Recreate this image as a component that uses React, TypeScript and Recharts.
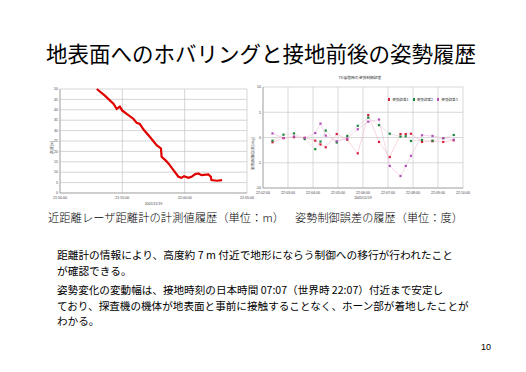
import { LineChart, Line, XAxis, YAxis, CartesianGrid, Legend } from 'recharts';

// left chart: laser range finder altitude (m)
const altTimes = [0.59, 0.72, 0.86, 0.91, 0.96, 1.0, 1.07, 1.18, 1.23, 1.28, 1.34, 1.44, 1.55, 1.62, 1.63, 1.69, 1.74, 1.82, 1.9, 1.95, 1.99, 2.06, 2.11, 2.17, 2.22, 2.27, 2.38, 2.42, 2.43, 2.52, 2.6];
const altValues = [50, 46.8, 42.8, 40.4, 41.5, 39.6, 38.0, 35.6, 33.7, 33.2, 30.5, 27.0, 23.0, 21.4, 17.4, 15.8, 14.2, 11.0, 7.8, 7.3, 8.1, 7.3, 7.8, 9.1, 9.4, 8.6, 8.9, 7.8, 6.2, 5.9, 6.2];
const altTicks = [0, 1, 2, 3];
const altTickLabels = ['21:50:00', '21:55:00', '22:00:00', '22:05:00'];
const altYTicks = [0, 5, 10, 15, 20, 25, 30, 35, 40, 45, 50];

// right chart: attitude control error (deg)
const attTimes = [0.38, 0.82, 1.24, 1.67, 2.09, 2.3, 2.51, 2.95, 3.37, 3.79, 4.21, 4.64, 5.07, 5.5, 5.71, 5.92, 6.36, 6.78, 7.21, 7.63];
const errX = [-0.94, -0.13, 0.06, -0.06, -0.63, -1.38, -1.94, 0.69, -0.44, -3.13, 4.44, -0.88, -3.88, 0.69, 0.69, 0.75, -0.88, -0.75, -0.88, -0.56];
const errY = [-0.63, 0.56, 0.81, -0.31, -2.31, -0.81, 1.38, -1.0, 0.31, 2.31, 3.94, 2.44, 0.75, 0.19, 0.25, -0.69, -0.5, -0.63, -0.13, 0.5];
const errZ = [0.81, -0.1, 0.2, -0.1, 0.88, 2.75, 0.38, -0.75, -0.2, 1.63, 3.13, 3.56, -5.63, -7.63, -5.63, -3.63, 0.44, 0.31, -0.13, -0.44];
const attTicks = [0, 1, 2, 3, 4, 5, 6, 7, 8];
const attTickLabels = ['22:02:00', '22:03:00', '22:04:00', '22:05:00', '22:06:00', '22:07:00', '22:08:00', '22:09:00', '22:10:00'];
const attYTicks = [-10, -5, 0, 5, 10];
const attNames = ['姿勢誤差1', '姿勢誤差2', '姿勢誤差3'];
const attColors = ['#d4203c', '#1a8a3a', '#b050b8'];

const altRows = altTimes.map((t, i) => ({ t, alt: altValues[i] }));
const attRows = attTimes.map((t, i) => ({ t, x: errX[i], y: errY[i], z: errZ[i] }));

const JP = '"Noto Sans CJK JP", sans-serif';
const SMALL = { fontSize: 3.6, fill: '#444', fontFamily: '"Liberation Sans", sans-serif' };

const squareDot = (color: string) => (p: any) => (
  <rect key={p.index} x={p.cx - 1.1} y={p.cy - 1.1} width={2.2} height={2.2} fill={color} />
);

function AttLegend() {
  return (
    <div style={{ display: 'flex', gap: 4, fontSize: 3.6, fontFamily: JP, color: '#333', whiteSpace: 'nowrap' }}>
      {attNames.map((n, i) => (
        <span key={n} style={{ display: 'flex', alignItems: 'center', gap: 2 }}>
          <span style={{ width: 2.2, height: 2.2, background: attColors[i], display: 'inline-block' }} />
          {n}
        </span>
      ))}
    </div>
  );
}

export default function App() {
  return (
    <div style={{ position: 'absolute', left: 0, top: 0, width: 526, height: 372, background: '#fff', overflow: 'hidden', fontFamily: JP, color: '#000' }}>
      <div style={{ position: 'absolute', left: 46, top: 42, fontSize: 21.5, lineHeight: '22px', whiteSpace: 'nowrap' }}>
        地表面へのホバリングと接地前後の姿勢履歴
      </div>

      <div style={{ position: 'absolute', left: 20, top: 70 }}>
        <LineChart width={240} height={140} data={altRows} margin={{ top: 19, right: 13, bottom: 10, left: 32 }}>
          <CartesianGrid stroke="#c4c4c4" strokeWidth={0.7} />
          <XAxis
            type="number"
            dataKey="t"
            domain={[0, 3]}
            ticks={altTicks}
            interval={0}
            tickFormatter={(v) => altTickLabels[v]}
            tick={SMALL}
            tickLine={false}
            tickSize={2}
            tickMargin={1}
            axisLine={{ stroke: '#999', strokeWidth: 0.7 }}
            height={7}
            label={{ value: '2005/11/19', position: 'bottom', offset: 2, ...SMALL }}
          />
          <YAxis
            type="number"
            domain={[0, 50]}
            ticks={altYTicks}
            interval={0}
            tick={SMALL}
            tickLine={false}
            tickSize={1}
            tickMargin={1}
            width={8}
            axisLine={{ stroke: '#999', strokeWidth: 0.7 }}
            label={{ value: '高度[m]', angle: -90, position: 'left', offset: 0, ...SMALL }}
          />
          <Line dataKey="alt" stroke="#e00000" strokeWidth={2.2} dot={false} isAnimationActive={false} />
        </LineChart>
      </div>

      <div style={{ position: 'absolute', left: 300, top: 75, width: 120, textAlign: 'center', fontSize: 3.8, color: '#333', whiteSpace: 'nowrap' }}>
        TD着陸時の姿勢制御誤差
      </div>

      <div style={{ position: 'absolute', left: 250, top: 70 }}>
        <LineChart width={270} height={140} data={attRows} margin={{ top: 17, right: 57, bottom: 10, left: 5 }}>
          <CartesianGrid stroke="#c8c8c8" strokeWidth={0.7} />
          <XAxis
            type="number"
            dataKey="t"
            domain={[0, 8]}
            ticks={attTicks}
            interval={0}
            tickFormatter={(v) => attTickLabels[v]}
            tick={SMALL}
            tickLine={false}
            tickSize={2}
            tickMargin={1}
            axisLine={{ stroke: '#999', strokeWidth: 0.7 }}
            height={7}
            label={{ value: '2005/11/19', position: 'bottom', offset: 1, ...SMALL }}
          />
          <YAxis
            type="number"
            domain={[-10, 10]}
            ticks={attYTicks}
            interval={0}
            tick={SMALL}
            tickLine={false}
            tickSize={1}
            tickMargin={1}
            width={8}
            axisLine={{ stroke: '#999', strokeWidth: 0.7 }}
            label={{ value: '姿勢制御誤差[deg]', angle: -90, position: 'left', offset: 2, ...SMALL }}
          />
          <Legend content={() => <AttLegend />} wrapperStyle={{ left: 138, top: 27, width: 80, bottom: 'auto' }} />
          <Line name={attNames[0]} dataKey="x" stroke="#f4bcc8" strokeWidth={0.6} dot={squareDot(attColors[0])} isAnimationActive={false} />
          <Line name={attNames[1]} dataKey="y" stroke="#e6d0d6" strokeWidth={0.6} dot={squareDot(attColors[1])} isAnimationActive={false} />
          <Line name={attNames[2]} dataKey="z" stroke="#eec0dc" strokeWidth={0.6} dot={squareDot(attColors[2])} isAnimationActive={false} />
        </LineChart>
      </div>

      <div style={{ position: 'absolute', left: 48, top: 210, fontSize: 11.3, lineHeight: '14px', whiteSpace: 'nowrap', fontWeight: 300 }}>
        近距離レーザ距離計の計測値履歴（単位：m）
      </div>
      <div style={{ position: 'absolute', left: 295, top: 210, fontSize: 11.2, lineHeight: '14px', whiteSpace: 'nowrap', fontWeight: 300 }}>
        姿勢制御誤差の履歴（単位：度）
      </div>

      <div style={{ position: 'absolute', left: 57, top: 247, fontSize: 10.7, lineHeight: '15.5px', whiteSpace: 'nowrap' }}>
        距離計の情報により、高度約 7 m 付近で地形にならう制御への移行が行われたこと
        <br />
        が確認できる。
      </div>
      <div style={{ position: 'absolute', left: 57, top: 282, fontSize: 10.6, lineHeight: '15.5px', whiteSpace: 'nowrap' }}>
        姿勢変化の変動幅は、接地時刻の日本時間 07:07（世界時 22:07）付近まで安定し
        <br />
        ており、探査機の機体が地表面と事前に接触することなく、ホーン部が着地したことが
        <br />
        わかる。
      </div>

      <div style={{ position: 'absolute', left: 481, top: 342, fontSize: 9, fontFamily: '"Liberation Sans", sans-serif' }}>10</div>
    </div>
  );
}
